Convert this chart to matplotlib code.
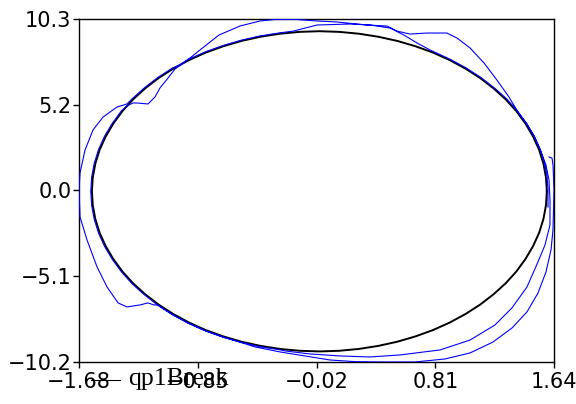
import matplotlib
matplotlib.use("Agg")
import matplotlib.pyplot as plt
from matplotlib.lines import Line2D

# curva de referencia (negra), q y p
q_ref = [1.590, 1.584, 1.566, 1.536, 1.494, 1.441, 1.377, 1.303, 1.218, 1.124,
         1.022, 0.912, 0.795, 0.672, 0.544, 0.411, 0.276, 0.139, 0.000,
         -0.139, -0.276, -0.411, -0.544, -0.672, -0.795, -0.912, -1.022, -1.124,
         -1.218, -1.303, -1.377, -1.441, -1.494, -1.536, -1.566, -1.584, -1.590,
         -1.584, -1.566, -1.536, -1.494, -1.441, -1.377, -1.303, -1.218, -1.124,
         -1.022, -0.912, -0.795, -0.672, -0.544, -0.411, -0.276, -0.139, 0.000,
         0.139, 0.276, 0.411, 0.544, 0.672, 0.795, 0.912, 1.022, 1.124,
         1.218, 1.303, 1.377, 1.441, 1.494, 1.536, 1.566, 1.584, 1.590]
p_ref = [0.00, 0.83, 1.66, 2.48, 3.27, 4.04, 4.79, 5.49, 6.15, 6.77,
         7.33, 7.84, 8.29, 8.67, 8.99, 9.24, 9.42, 9.53, 9.57,
         9.53, 9.42, 9.24, 8.99, 8.67, 8.29, 7.84, 7.33, 6.77,
         6.15, 5.49, 4.79, 4.04, 3.27, 2.48, 1.66, 0.83, 0.00,
         -0.83, -1.66, -2.48, -3.27, -4.04, -4.79, -5.49, -6.15, -6.77,
         -7.33, -7.84, -8.29, -8.67, -8.99, -9.24, -9.42, -9.53, -9.57,
         -9.53, -9.42, -9.24, -8.99, -8.67, -8.29, -7.84, -7.33, -6.77,
         -6.15, -5.49, -4.79, -4.04, -3.27, -2.48, -1.66, -0.83, 0.00]

# trayectoria qp1Break (azul)
q_brk = [1.605, 1.626, 1.633, 1.640, 1.633, 1.619, 1.584, 1.528, 1.451, 1.346,
         1.213, 1.053, 0.878, 0.668, 0.459, 0.249, 0.074, -0.100, -0.275, -0.450,
         -0.547, -0.675, -0.799, -0.917, -1.027, -1.130,
         -1.156, -1.198, -1.254, -1.345, -1.407, -1.484, -1.554, -1.624, -1.673, -1.680,
         -1.673, -1.638, -1.582, -1.512, -1.414, -1.345,
         -1.310, -1.224, -1.130, -1.027, -0.981,
         -0.904, -0.834, -0.702, -0.555, -0.415, -0.310, -0.156, -0.017, 0.123, 0.333,
         0.473, 0.542, 0.633, 0.752, 0.892, 0.962, 1.053, 1.151, 1.241, 1.325, 1.388,
         1.448, 1.502, 1.544, 1.584, 1.605, 1.612, 1.612,
         1.577, 1.528, 1.451, 1.346, 1.227, 1.053, 0.843, 0.563, 0.354, 0.144, -0.066, -0.240,
         -0.277, -0.413, -0.547, -0.675, -0.799, -0.917, -1.027, -1.130, -1.224, -1.310,
         -1.384, -1.448, -1.502, -1.544, -1.574, -1.592, -1.598, -1.592, -1.574, -1.544,
         -1.502, -1.448, -1.384, -1.345,
         -1.303, -1.275, -1.198, -1.149, -1.114, -1.058, -1.009,
         -0.916, -0.799, -0.675, -0.547, -0.413, -0.277, -0.180,
         -0.100, -0.017, 0.214, 0.354, 0.494, 0.591, 0.682, 0.773,
         0.917, 1.027, 1.130, 1.224, 1.310, 1.384, 1.448, 1.502, 1.544, 1.574, 1.592,
         1.598, 1.598]
p_brk = [2.05, 1.99, 1.57, 0.08, -2.31, -3.51, -4.82, -6.08, -7.21, -8.17,
         -9.01, -9.66, -10.02, -10.20, -10.20, -10.18, -10.08, -9.84, -9.60, -9.30,
         -9.03, -8.71, -8.33, -7.88, -7.37, -6.80,
         -6.79, -6.67, -6.79, -6.91, -6.67, -5.72, -4.52, -2.91, -1.53, 0.08,
         1.10, 2.47, 3.67, 4.44, 5.04, 5.22,
         5.52, 6.18, 6.80, 7.37, 7.53,
         7.97, 8.45, 9.34, 9.88, 10.18, 10.27, 10.27, 10.18, 10.12, 9.94,
         9.88, 9.58, 9.40, 9.46, 9.46, 9.16, 8.57, 7.67, 6.65, 5.64, 4.74,
         4.06, 3.29, 2.49, 1.57, 0.68, -0.52, -2.01,
         -3.21, -4.22, -5.72, -6.97, -7.99, -8.89, -9.48, -9.78, -9.90, -9.84, -9.72, -9.54,
         -9.47, -9.29, -9.03, -8.71, -8.33, -7.88, -7.37, -6.80, -6.18, -5.52,
         -4.81, -4.06, -3.29, -2.49, -1.67, -0.83, 0.00, 0.83, 1.67, 2.49,
         3.29, 4.06, 4.81, 5.10,
         5.28, 5.28, 5.22, 5.64, 6.18, 6.77, 7.31,
         7.88, 8.33, 8.71, 9.03, 9.29, 9.47, 9.58,
         9.76, 9.94, 10.00, 9.94, 9.76, 9.34, 8.87, 8.45,
         7.88, 7.37, 6.80, 6.18, 5.52, 4.81, 4.06, 3.29, 2.49, 1.67, 0.83,
         0.08, -0.94]

xticks = [-1.68, -0.85, -0.02, 0.81, 1.64]
xlabels = ["\u22121.68", "\u22120.85", "\u22120.02", "0.81", "1.64"]
yticks = [-10.2, -5.075, 0.05, 5.175, 10.3]
ylabels = ["\u221210.2", "\u22125.1", "0.0", "5.2", "10.3"]

fig = plt.figure(figsize=(5.76, 4.04), dpi=100)
ax = fig.add_axes([0.1372, 0.104, 0.8246, 0.849])

ax.plot(q_ref, p_ref, color="black", lw=1.4, zorder=2)
ax.plot(q_brk, p_brk, color="blue", lw=0.8, zorder=3)

ax.set_xlim(-1.68, 1.64)
ax.set_ylim(-10.2, 10.3)
ax.set_xticks(xticks)
ax.set_xticklabels(xlabels)
ax.set_yticks(yticks)
ax.set_yticklabels(ylabels)
ax.tick_params(direction="out", length=4, width=1, labelsize=15, top=False, right=False)
ax.tick_params(axis="x", pad=3)
ax.tick_params(axis="y", pad=1.5)
for s in ax.spines.values():
    s.set_linewidth(1.0)

# leyenda (encima de las etiquetas, como en el original)
fig.add_artist(Line2D([0.158, 0.208], [0.0594, 0.0594], color="black", lw=0.8,
                      transform=fig.transFigure))
fig.text(0.222, 0.047, "qp1Break", fontsize=18.5, family="Liberation Serif",
         va="baseline", ha="left")

plt.savefig("out.png", dpi=100)
